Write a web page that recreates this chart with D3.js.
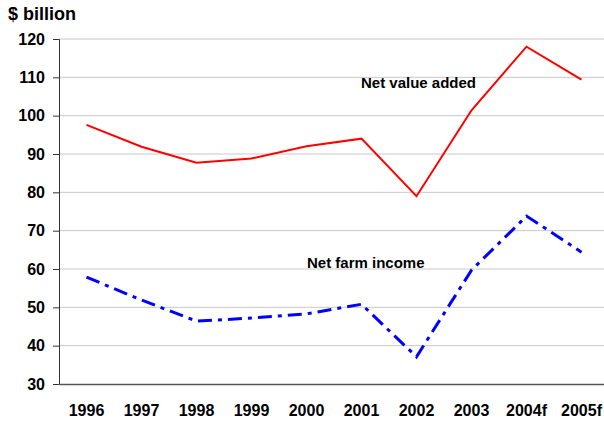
<!DOCTYPE html>
<html>
<head>
<meta charset="utf-8">
<script src="https://cdn.jsdelivr.net/npm/d3@7"></script>
<style>
  body { margin: 0; background: #fff; }
  text { font-family: "Liberation Sans", Arial, sans-serif; font-weight: bold; fill: #000; }
</style>
</head>
<body>
<svg id="chart" width="604" height="423"></svg>
<script>
let years = ["1996", "1997", "1998", "1999", "2000", "2001", "2002", "2003", "2004f", "2005f"];
let netValueAdded = [97.6, 91.9, 87.7, 88.8, 92.0, 94.0, 79.0, 101.4, 118.0, 109.4];
let netFarmIncome = [57.9, 51.9, 46.4, 47.2, 48.3, 50.8, 37.1, 59.7, 73.8, 64.4];
let yTicks = [30, 40, 50, 60, 70, 80, 90, 100, 110, 120];

let svg = d3.select("#chart");
let plotLeft = 59, plotRight = 609, plotTop = 39, plotBottom = 384;

let x = d3.scaleBand().domain(years).range([plotLeft, plotRight]);
let y = d3.scaleLinear().domain([30, 120]).range([plotBottom, plotTop]);
let cx = d => x(d) + x.bandwidth() / 2;

// gridlines
svg.append("g")
    .selectAll("line")
    .data(yTicks.filter(t => t > 30))
    .enter().append("line")
    .attr("x1", plotLeft).attr("x2", 604)
    .attr("y1", d => y(d)).attr("y2", d => y(d))
    .style("stroke", "#c8c8c8")
    .style("stroke-width", 1);

// y axis
let yAxis = svg.append("g")
    .attr("transform", "translate(" + plotLeft + ",0)")
    .call(d3.axisLeft(y).tickValues(yTicks).tickSize(6).tickPadding(8));
yAxis.select(".domain").style("stroke", "#333");
yAxis.selectAll(".tick line").style("stroke", "#333");
yAxis.selectAll("text").style("font-size", "16px").style("font-family", "Liberation Sans, Arial, sans-serif").style("font-weight", "bold");

// x axis
let xAxis = svg.append("g")
    .attr("transform", "translate(0," + plotBottom + ")")
    .call(d3.axisBottom(x).tickSize(0).tickPadding(21));
xAxis.select(".domain").style("stroke", "#555").style("stroke-width", 1.5);
xAxis.selectAll("text").style("font-size", "16px").style("font-family", "Liberation Sans, Arial, sans-serif").style("font-weight", "bold");

let line = vals => d3.line()
    .x((d, i) => cx(years[i]))
    .y(d => y(d))(vals);

svg.append("path")
    .attr("d", line(netValueAdded))
    .style("fill", "none")
    .style("stroke", "#ff0000")
    .style("stroke-width", 2);

svg.append("path")
    .attr("d", line(netFarmIncome))
    .style("fill", "none")
    .style("stroke", "#0000ff")
    .style("stroke-width", 3)
    .style("stroke-dasharray", "14,6,4,6");

svg.append("text").attr("x", 8).attr("y", 20).style("font-size", "18px").text("$ billion");
svg.append("text").attr("x", 361).attr("y", 88).style("font-size", "15px").text("Net value added");
svg.append("text").attr("x", 307).attr("y", 268).style("font-size", "15px").text("Net farm income");
</script>
</body>
</html>
